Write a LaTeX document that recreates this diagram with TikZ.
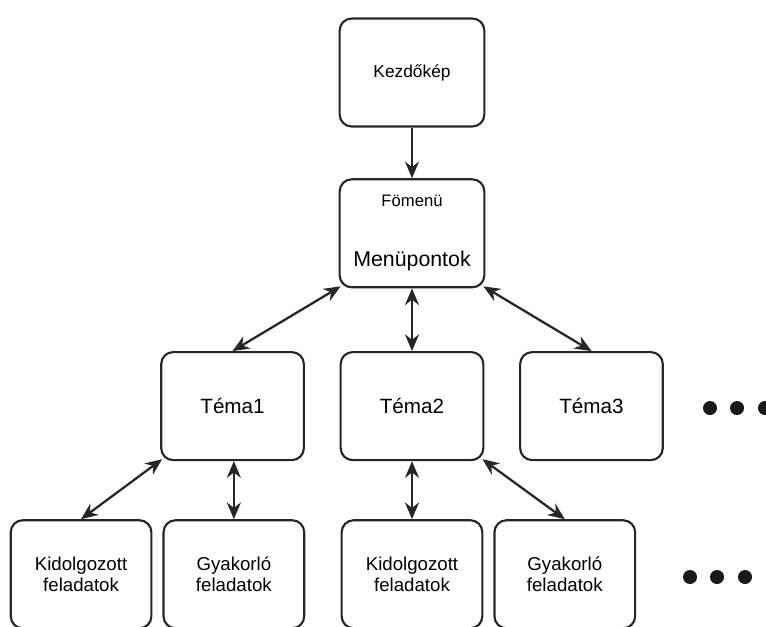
\documentclass[tikz,border=0pt]{standalone}
\usepackage{fontspec}
\setmainfont{Liberation Sans}
\usetikzlibrary{arrows.meta, positioning}

\begin{document}
\begin{tikzpicture} [
    x=0.75pt, y=-0.75pt,
    node distance=30pt,
    box/.style={rectangle, rounded corners=9pt, draw=black!85, line width=1.6pt, minimum width=107pt, minimum height=81pt, font=\fontsize{15.5}{18}\selectfont, text centered},
    topbox/.style={box, minimum width=108.5pt},
    leaf/.style={box, minimum width=105.5pt, font=\fontsize{14}{15.5}\selectfont, align=center},
    arrow/.style={-{Stealth[length=12.5pt,width=10.5pt]}, line width=1.7pt, black!85},
    both/.style={{Stealth[length=12.5pt,width=10.5pt]}-{Stealth[length=12.5pt,width=10.5pt]}, line width=1.7pt, black!85}
]
\clip (0,0) rectangle (766,626);

% boxes
\node[topbox, font=\fontsize{13}{15}\selectfont] (start) at (412,72.5) {Kezdőkép};
\node[topbox, below=38pt of start, font=\fontsize{16}{19}\selectfont, align=center] (menu) {{\fontsize{12.5}{14}\selectfont Fömenü}\\[26pt]Menüpontok};
\node[box, below=47pt of menu] (tema2) {Téma2};
\node[box, left=26pt of tema2] (tema1) {Téma1};
\node[box, right=26pt of tema2] (tema3) {Téma3};
\node[leaf, below=43.5pt of tema2] (kidolg2) {Kidolgozott\\feladatok};
\node[leaf, right=7.5pt of kidolg2] (gyak2) {Gyakorló\\feladatok};
\node[leaf, left=26.5pt of kidolg2] (gyak1) {Gyakorló\\feladatok};
\node[leaf, left=7.5pt of gyak1] (kidolg1) {Kidolgozott\\feladatok};

% arrows
\draw[arrow] (start) -- (menu);
\draw[both] ([shift={(2,-2)}]menu.south west) -- (tema1.north);
\draw[both] (menu.south) -- (tema2.north);
\draw[both] ([shift={(-2,-2)}]menu.south east) -- (tema3.north);
\draw[both] ([shift={(2,-2)}]tema1.south west) -- (kidolg1.north);
\draw[both] (gyak1.north |- tema1.south) -- (gyak1.north);
\draw[both] (tema2.south) -- (kidolg2.north);
\draw[both] ([shift={(-2,-2)}]tema2.south east) -- (gyak2.north);

% dots
\fill[black!90] (710,408) circle (7) (737,408) circle (7) (765,408) circle (7);
\fill[black!90] (690,577) circle (7) (717,577) circle (7) (745,577) circle (7);

\end{tikzpicture}
\end{document}
